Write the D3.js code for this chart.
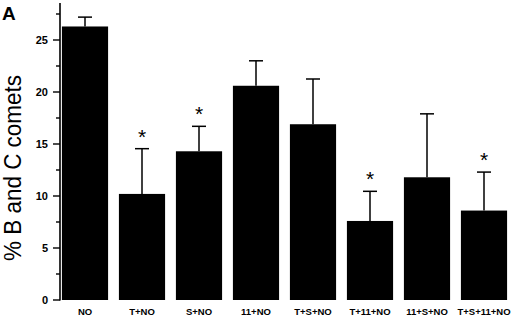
<!DOCTYPE html>
<html>
<head>
<meta charset="utf-8">
<script src="https://cdn.jsdelivr.net/npm/d3@7"></script>
<style>
  body { margin: 0; background: #fff; }
  svg { display: block; font-family: Arial, "Liberation Sans", sans-serif; }
</style>
</head>
<body>
<div id="chart"></div>
<script>
// groups and readings
const groups = ["NO", "T+NO", "S+NO", "11+NO", "T+S+NO", "T+11+NO", "11+S+NO", "T+S+11+NO"];
const means = [26.3, 10.2, 14.3, 20.6, 16.9, 7.6, 11.8, 8.6];
const errors = [0.9, 4.35, 2.4, 2.4, 4.35, 2.85, 6.1, 3.7];
const significant = [false, true, true, false, false, true, false, true];
const yTicks = [0, 5, 10, 15, 20, 25];
const yMinorTicks = [2.5, 7.5, 12.5, 17.5, 22.5, 27.5];

const width = 520, height = 317;

const svg = d3.select("#chart").append("svg")
    .attr("width", width)
    .attr("height", height);

const x = d3.scaleBand()
    .domain(groups)
    .range([56.5, 512.5])
    .paddingInner(0.19)
    .paddingOuter(0.095);

const y = d3.scaleLinear()
    .domain([0, 27.5])
    .range([300, 14]);

// y axis
const yAxis = svg.append("g")
    .attr("transform", "translate(60,0)");

yAxis.append("line")
    .attr("x1", 0).attr("x2", 0)
    .attr("y1", 3).attr("y2", 300.5)
    .attr("stroke", "#000").attr("stroke-width", 1.6);

yAxis.selectAll(".major")
    .data(yTicks)
    .join("line")
    .attr("x1", -7).attr("x2", 0)
    .attr("y1", d => y(d)).attr("y2", d => y(d))
    .attr("stroke", "#000").attr("stroke-width", 1.4);

yAxis.selectAll(".minor")
    .data(yMinorTicks)
    .join("line")
    .attr("x1", -4).attr("x2", 0)
    .attr("y1", d => y(d)).attr("y2", d => y(d))
    .attr("stroke", "#000").attr("stroke-width", 1.4);

yAxis.selectAll("text")
    .data(yTicks)
    .join("text")
    .attr("x", -12)
    .attr("y", d => y(d))
    .attr("dy", "0.36em")
    .attr("text-anchor", "end")
    .attr("font-size", 11)
    .attr("font-weight", "bold")
    .text(d => d);

// bars
svg.selectAll(".bar")
    .data(groups)
    .join("rect")
    .attr("x", d => x(d))
    .attr("width", x.bandwidth())
    .attr("y", (d, i) => y(means[i]))
    .attr("height", (d, i) => y(0) - y(means[i]))
    .attr("fill", "#000");

// error bars
const err = svg.append("g").attr("stroke", "#000").attr("stroke-width", 1.5);
groups.forEach((g, i) => {
    const cx = x(g) + x.bandwidth() / 2;
    const top = y(means[i] + errors[i]);
    err.append("line")
        .attr("x1", cx).attr("x2", cx)
        .attr("y1", y(means[i])).attr("y2", top);
    err.append("line")
        .attr("x1", cx - 7).attr("x2", cx + 7)
        .attr("y1", top).attr("y2", top);
});

// significance stars
svg.selectAll(".star")
    .data(groups.filter((g, i) => significant[i]))
    .join("text")
    .attr("x", d => x(d) + x.bandwidth() / 2)
    .attr("y", d => {
        const i = groups.indexOf(d);
        return y(means[i] + errors[i]) - 5;
    })
    .attr("text-anchor", "middle")
    .attr("font-size", 21)
    .text("*");

// x labels
svg.selectAll(".xlab")
    .data(groups)
    .join("text")
    .attr("x", d => x(d) + x.bandwidth() / 2)
    .attr("y", 315)
    .attr("text-anchor", "middle")
    .attr("font-size", 9.5)
    .attr("font-weight", "bold")
    .text(d => d);

// y title
svg.append("text")
    .attr("transform", "translate(21,168) rotate(-90)")
    .attr("text-anchor", "middle")
    .attr("font-size", 23)
    .attr("textLength", 186)
    .attr("lengthAdjust", "spacingAndGlyphs")
    .text("% B and C comets");

// panel letter
svg.append("text")
    .attr("x", 2)
    .attr("y", 20)
    .attr("font-size", 19)
    .attr("font-weight", "bold")
    .text("A");
</script>
</body>
</html>
